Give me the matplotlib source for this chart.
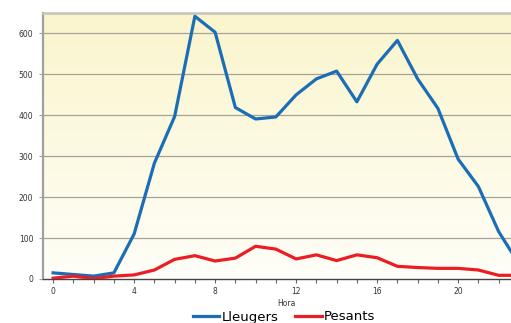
import numpy as np
import matplotlib
matplotlib.use("Agg")
import matplotlib.pyplot as plt
from matplotlib.colors import LinearSegmentedColormap

hores = list(range(24))
lleugers = [15, 11, 7, 15, 110, 283, 397, 642, 603, 419, 391, 396, 450, 489, 508,
            433, 525, 583, 489, 417, 293, 226, 116, 37]
pesants = [2, 7, 1, 7, 10, 22, 48, 57, 44, 51, 80, 73, 49, 59, 45,
           59, 52, 31, 28, 26, 26, 22, 9, 9]
xticks = [0, 4, 8, 12, 16, 20]
yticks = [0, 100, 200, 300, 400, 500, 600]

fig = plt.figure(figsize=(5.11, 3.23), dpi=100)
fig.patch.set_facecolor("white")
# axes runs past the right edge of the figure
ax = fig.add_axes([43 / 511, 1 - 279 / 323, 486 / 511, 266 / 323])
ax.set_xlim(-0.5, 23.5)
ax.set_ylim(0, 650)

# pale yellow vertical gradient
cmap = LinearSegmentedColormap.from_list("bg", ["#fffef8", "#faf5cc"])
grad = np.linspace(0, 1, 256).reshape(-1, 1)
ax.imshow(grad, cmap=cmap, aspect="auto", origin="lower",
          extent=(-0.5, 23.5, 0, 650), zorder=0)

for y in yticks[1:]:
    ax.axhline(y, color="#a5a397", lw=0.9, zorder=1)

l1, = ax.plot(hores, lleugers, color="#1b6db5", lw=2.3, zorder=3,
              solid_joinstyle="round", label="Lleugers")
l2, = ax.plot(hores, pesants, color="#ec1c24", lw=2.3, zorder=3,
              solid_joinstyle="round", label="Pesants")

ax.set_xticks(xticks)
ax.set_xticks(hores, minor=True)
ax.set_yticks(yticks)
ax.tick_params(axis="both", which="major", labelsize=5.5, labelcolor="#333333",
               length=3, width=0.8, color="#666666", pad=3)
ax.tick_params(axis="x", which="minor", length=3, width=0.8, color="#666666")
ax.tick_params(axis="y", which="major", color="#a5a397", length=3, pad=4)

ax.spines["left"].set_color("#a0a0a0")
ax.spines["left"].set_linewidth(1.6)
ax.spines["top"].set_color("#c4c4bc")
ax.spines["top"].set_linewidth(1.8)
ax.spines["bottom"].set_color("#444444")
ax.spines["bottom"].set_linewidth(1.0)
ax.spines["right"].set_visible(False)

ax.set_xlabel("Hora", fontsize=5.5, color="#333333", labelpad=2)

fig.legend(handles=[l1, l2], loc="center", bbox_to_anchor=(284 / 511, 1 - 317 / 323),
           ncol=2, frameon=False, fontsize=9.5, handlelength=2.0,
           handletextpad=0.15, columnspacing=1.3)

fig.savefig("out.png", dpi=100)
